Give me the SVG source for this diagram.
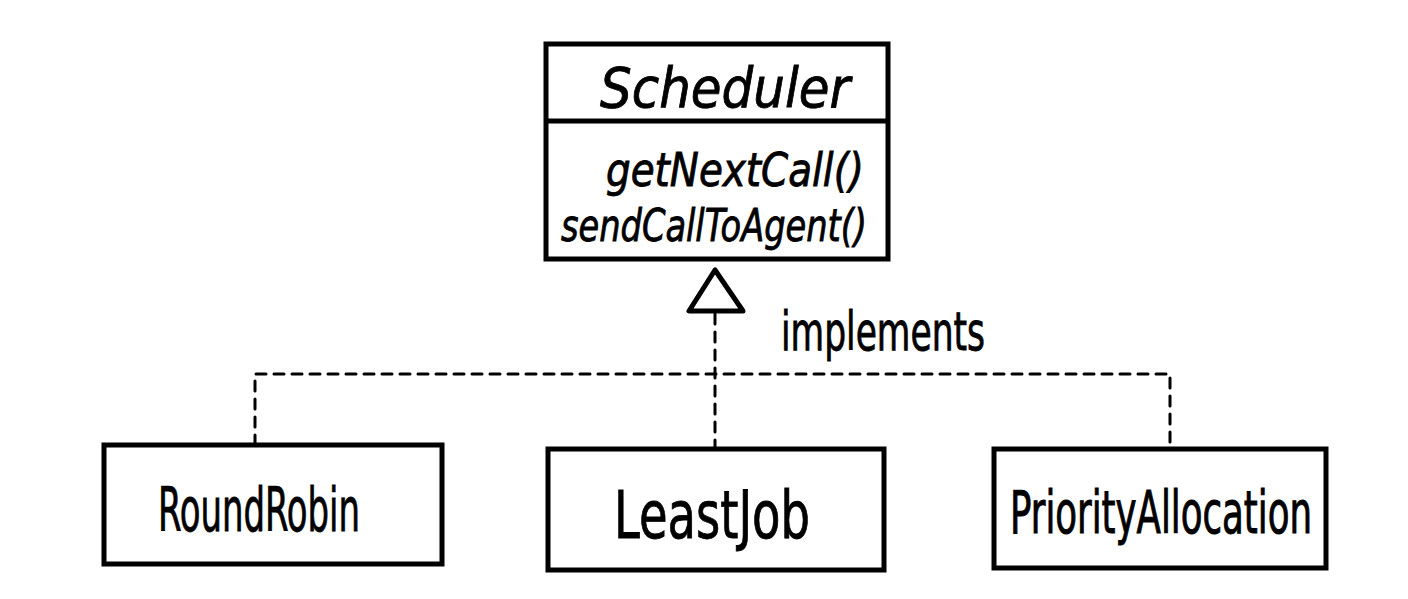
<svg xmlns="http://www.w3.org/2000/svg" width="1408" height="599" viewBox="0 0 1408 599">
<style>
.box{fill:#fff;stroke:#000;stroke-width:5}
.dash{fill:none;stroke:#000;stroke-width:3;stroke-dasharray:10 8;stroke-linecap:round}
.t{font-family:"DejaVu Sans Condensed","Liberation Sans Narrow","Liberation Sans",sans-serif;fill:#000;stroke:#000;stroke-width:0.8}
</style>
<rect width="1408" height="599" fill="#fff"/>
<g id="connectors">
<path class="dash" d="M255 445 L255 374 L1170 374 L1170 447"/>
<path class="dash" d="M715 314 L715 447"/>
<polygon points="715,270 689,311 743,311" fill="#fff" stroke="#000" stroke-width="5" stroke-linejoin="round"/>
<text class="t" x="781" y="350" font-size="54" textLength="204" lengthAdjust="spacingAndGlyphs">implements</text>
</g>
<g id="Scheduler">
<rect class="box" x="546" y="44" width="342" height="215"/>
<line x1="546" y1="121" x2="888" y2="121" stroke="#000" stroke-width="5"/>
<text class="t" x="600" y="107" font-size="56" font-style="italic" textLength="250" lengthAdjust="spacingAndGlyphs">Scheduler</text>
<text class="t" x="606" y="186" font-size="46" font-style="italic" textLength="258" lengthAdjust="spacingAndGlyphs">getNextCall()</text>
<text class="t" x="561" y="241" font-size="44" font-style="italic" textLength="306" lengthAdjust="spacingAndGlyphs">sendCallToAgent()</text>
</g>
<g id="RoundRobin">
<rect class="box" x="104" y="445" width="338" height="119"/>
<text class="t" x="158" y="531" font-size="60" textLength="202" lengthAdjust="spacingAndGlyphs">RoundRobin</text>
</g>
<g id="LeastJob">
<rect class="box" x="548" y="449" width="336" height="121"/>
<text class="t" x="614" y="538" font-size="66" textLength="196" lengthAdjust="spacingAndGlyphs">LeastJob</text>
</g>
<g id="PriorityAllocation">
<rect class="box" x="994" y="449" width="332" height="119"/>
<text class="t" transform="translate(1010,533) scale(1,1.18)" x="0" y="0" font-size="49" textLength="302" lengthAdjust="spacingAndGlyphs">PriorityAllocation</text>
</g>
</svg>
